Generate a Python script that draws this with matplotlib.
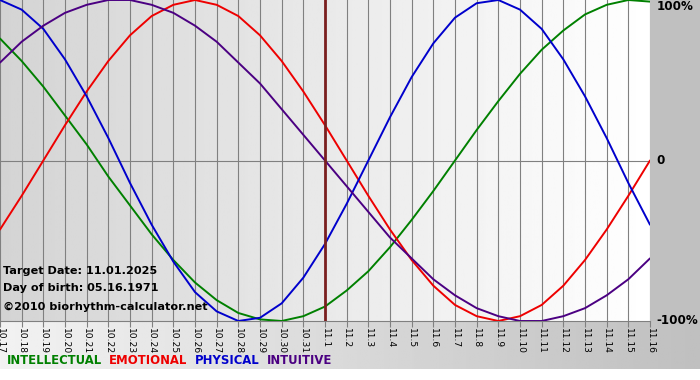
import matplotlib
matplotlib.use('Agg')
import matplotlib.pyplot as plt
from matplotlib.patches import Rectangle
import numpy as np

# days shown on the chart (month.day)
days = ['10.17', '10.18', '10.19', '10.20', '10.21', '10.22', '10.23', '10.24',
        '10.25', '10.26', '10.27', '10.28', '10.29', '10.30', '10.31', '11.1',
        '11.2', '11.3', '11.4', '11.5', '11.6', '11.7', '11.8', '11.9', '11.10',
        '11.11', '11.12', '11.13', '11.14', '11.15', '11.16']
target_day = '11.1'

# cycle values, -1 .. 1
intellectual = [0.76, 0.62, 0.46, 0.28, 0.10, -0.10, -0.28, -0.46, -0.62, -0.76, -0.87,
                -0.95, -0.99, -1.00, -0.97, -0.91, -0.81, -0.69, -0.54, -0.37, -0.19,
                0.00, 0.19, 0.37, 0.54, 0.69, 0.81, 0.91, 0.97, 1.00, 0.99]
emotional = [-0.43, -0.22, 0.00, 0.22, 0.43, 0.62, 0.78, 0.90, 0.97, 1.00, 0.97,
             0.90, 0.78, 0.62, 0.43, 0.22, 0.00, -0.22, -0.43, -0.62, -0.78, -0.90,
             -0.97, -1.00, -0.97, -0.90, -0.78, -0.62, -0.43, -0.22, 0.00]
physical = [1.00, 0.94, 0.82, 0.63, 0.40, 0.14, -0.14, -0.40, -0.63, -0.82, -0.94,
            -1.00, -0.98, -0.89, -0.73, -0.52, -0.27, 0.00, 0.27, 0.52, 0.73, 0.89,
            0.98, 1.00, 0.94, 0.82, 0.63, 0.40, 0.14, -0.14, -0.40]
intuitive = [0.61, 0.74, 0.84, 0.92, 0.97, 1.00, 1.00, 0.97, 0.92, 0.84, 0.74, 0.61,
             0.48, 0.32, 0.16, 0.00, -0.16, -0.32, -0.48, -0.61, -0.74, -0.84, -0.92,
             -0.97, -1.00, -1.00, -0.97, -0.92, -0.84, -0.74, -0.61]

series = [('INTELLECTUAL', intellectual, '#008000'),
          ('EMOTIONAL', emotional, '#ee0000'),
          ('PHYSICAL', physical, '#0000cc'),
          ('INTUITIVE', intuitive, '#4b0082')]

fig = plt.figure(figsize=(7, 3.8), dpi=100)
fig.patch.set_facecolor('white')

# background layer in pixel coords
bg = fig.add_axes([0, 0, 1, 1])
bg.set_xlim(0, 700)
bg.set_ylim(380, 0)
bg.axis('off')
bg.add_patch(Rectangle((650, 0), 50, 321, color='#c0c0c0', lw=0))
band = np.linspace(0.95, 0.75, 256).reshape(1, -1)
bg.imshow(band, cmap='gray', vmin=0, vmax=1, extent=[0, 700, 369, 321], aspect='auto')

ax = fig.add_axes([0, 1 - 321 / 380, 650 / 700, 321 / 380])
x = np.arange(len(days))
ax.set_xlim(0, len(days) - 1)
ax.set_ylim(-1, 1)

shade = np.linspace(0.83, 1.0, 256).reshape(1, -1)
ax.imshow(shade, cmap='gray', vmin=0, vmax=1, extent=[0, len(days) - 1, -1, 1],
          aspect='auto', zorder=0)

for xi in x:
    ax.axvline(xi, color='#808080', lw=0.8, zorder=1)
ax.axhline(0, color='#808080', lw=0.8, zorder=1)

for name, vals, col in series:
    ax.plot(x, vals, color=col, lw=1.4, zorder=3, solid_capstyle='round')

ax.axvline(days.index(target_day), color='#7a1f1f', lw=2, zorder=4)

for s in ['top', 'right', 'left']:
    ax.spines[s].set_visible(False)
ax.spines['bottom'].set_color('#808080')
ax.set_yticks([])
ax.set_xticks(x)
ax.set_xticklabels(days, rotation=270, fontsize=6.6, ha='center', va='top')
ax.tick_params(axis='x', direction='out', length=4, color='#808080', pad=1)

# right side labels
for lab, yv in [('100%', 1), ('0', 0), ('-100%', -1)]:
    ax.text(1.01, (yv + 1) / 2 - (0.02 if yv == 1 else 0), lab,
            transform=ax.transAxes, fontsize=8.6, fontweight='bold',
            ha='left', va='center', clip_on=False)

info = ['Target Date: 11.01.2025', 'Day of birth: 05.16.1971',
        '\u00a92010 biorhythm-calculator.net']
for txt, ypx in zip(info, [271, 288, 307]):
    ax.text(3 / 650, 1 - ypx / 321, txt, transform=ax.transAxes,
            fontsize=8.1, fontweight='bold', ha='left', va='center')

# legend row
px = 7
r = fig.canvas.get_renderer()
for name, vals, col in series:
    t = fig.text(px / 700, 1 - 361 / 380, name, color=col, fontsize=8.4,
                 fontweight='bold', ha='left', va='center')
    w = t.get_window_extent(renderer=r).width
    px += w + 7

fig.savefig('out.png', dpi=100)
